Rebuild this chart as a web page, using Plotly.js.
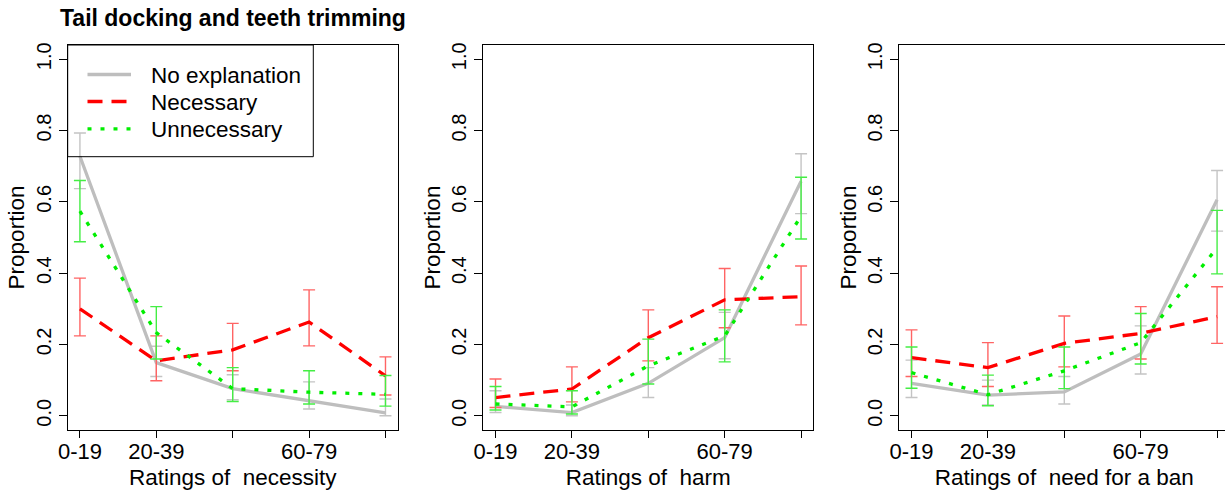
<!DOCTYPE html>
<html>
<head>
<meta charset="utf-8">
<script src="https://cdn.plot.ly/plotly-3.0.1.min.js"></script>
<style>
  html, body { margin: 0; padding: 0; overflow: hidden; background: #fff; }
  #chart { width: 1240px; height: 491px; }
</style>
</head>
<body>
<div id="chart"></div>
<script>
// ---- data ----
const categories = ['0-19', '20-39', '40-59', '60-79', '80-100'];
const tickLabels = ['0-19', '20-39', '', '60-79', ''];
const seriesNames = ['No explanation', 'Necessary', 'Unnecessary'];
const panelTitles = ['Ratings of\u00a0 necessity', 'Ratings of\u00a0 harm', 'Ratings of\u00a0 need for a ban'];
const yTitle = 'Proportion';
const chartTitle = 'Tail docking and teeth trimming';

// Panel 1: necessity
const noExp1   = [0.728, 0.149, 0.076, 0.042, 0.008];
const noExp1Lo = [0.637, 0.110, 0.045, 0.019, 0.000];
const noExp1Hi = [0.793, 0.195, 0.115, 0.095, 0.047];
const nec1     = [0.300, 0.154, 0.185, 0.263, 0.112];
const nec1Lo   = [0.224, 0.098, 0.126, 0.196, 0.058];
const nec1Hi   = [0.386, 0.224, 0.259, 0.353, 0.165];
const unn1     = [0.574, 0.233, 0.076, 0.066, 0.060];
const unn1Lo   = [0.488, 0.159, 0.040, 0.033, 0.027];
const unn1Hi   = [0.660, 0.306, 0.135, 0.126, 0.113];

// Panel 2: harm
const noExp2   = [0.026, 0.009, 0.091, 0.219, 0.658];
const noExp2Lo = [0.009, 0.000, 0.051, 0.160, 0.567];
const noExp2Hi = [0.070, 0.030, 0.135, 0.290, 0.735];
const nec2     = [0.051, 0.075, 0.219, 0.325, 0.334];
const nec2Lo   = [0.023, 0.039, 0.154, 0.247, 0.255];
const nec2Hi   = [0.103, 0.137, 0.297, 0.413, 0.420];
const unn2     = [0.033, 0.025, 0.140, 0.224, 0.560];
const unn2Lo   = [0.016, 0.005, 0.089, 0.151, 0.496];
const unn2Hi   = [0.082, 0.070, 0.215, 0.297, 0.669];

// Panel 3: need for a ban
const noExp3   = [0.091, 0.058, 0.067, 0.173, 0.606];
const noExp3Lo = [0.051, 0.030, 0.033, 0.117, 0.518];
const noExp3Hi = [0.156, 0.100, 0.110, 0.252, 0.688];
const nec3     = [0.163, 0.135, 0.203, 0.231, 0.278];
const nec3Lo   = [0.110, 0.082, 0.137, 0.159, 0.203];
const nec3Hi   = [0.241, 0.205, 0.280, 0.306, 0.362];
const unn3     = [0.121, 0.059, 0.126, 0.205, 0.471];
const unn3Lo   = [0.077, 0.028, 0.076, 0.145, 0.398];
const unn3Hi   = [0.193, 0.114, 0.193, 0.287, 0.576];

// ---- styling ----
const FONT = 'Liberation Sans, Arial, Helvetica, sans-serif';
const W = 1240, H = 491;
const styles = [
  { line: { color: '#bebebe', width: 3.3, dash: 'solid' }, err: '#c4c4c4' },
  { line: { color: '#ff0000', width: 3.3, dash: '15px,9px' }, err: '#ff6464' },
  { line: { color: '#00ee00', width: 3.3, dash: '4px,9px' }, err: '#44ee44' }
];

const panels = [
  [[noExp1, noExp1Lo, noExp1Hi], [nec1, nec1Lo, nec1Hi], [unn1, unn1Lo, unn1Hi]],
  [[noExp2, noExp2Lo, noExp2Hi], [nec2, nec2Lo, nec2Hi], [unn2, unn2Lo, unn2Hi]],
  [[noExp3, noExp3Lo, noExp3Hi], [nec3, nec3Lo, nec3Hi], [unn3, unn3Lo, unn3Hi]]
];

// plot-box pixel extents of each panel (left, right)
const boxX = [[67.7, 397.7], [483.3, 813.3], [899.3, 1229.3]];
const boxTop = 45, boxBottom = 430;

const traces = [];
panels.forEach((panel, p) => {
  const sfx = p === 0 ? '' : String(p + 1);
  panel.forEach((s, k) => {
    const [vals, lo, hi] = s;
    traces.push({
      type: 'scatter', mode: 'lines',
      x: categories, y: vals,
      xaxis: 'x' + sfx, yaxis: 'y' + sfx,
      name: seriesNames[k],
      showlegend: false,
      line: styles[k].line,
      error_y: {
        type: 'data', symmetric: false,
        array: hi.map((h, i) => h - vals[i]),
        arrayminus: lo.map((l, i) => vals[i] - l),
        color: styles[k].err, thickness: 1.4, width: 6
      },
      hoverinfo: 'x+y+name'
    });
  });
});

// legend box drawn in the first panel (pixel layout -> paper coords)
const px = v => v / W, py = v => 1 - v / H;
const legBox = { x0: 67.7, x1: 313.3, y0: 45, y1: 156.7 };
const legRowsY = [74.5, 101.5, 128.8];
const legLineX = [87.5, 131];
const legTextX = 149;

const shapes = [{
  type: 'rect', xref: 'paper', yref: 'paper',
  x0: px(legBox.x0), x1: px(legBox.x1), y0: py(legBox.y1), y1: py(legBox.y0),
  line: { color: '#000', width: 1 }, fillcolor: 'rgba(0,0,0,0)'
}];
const annotations = [];
seriesNames.forEach((n, k) => {
  shapes.push({
    type: 'line', xref: 'paper', yref: 'paper',
    x0: px(legLineX[0]), x1: px(legLineX[1]), y0: py(legRowsY[k]), y1: py(legRowsY[k]),
    line: { color: styles[k].line.color, width: styles[k].line.width, dash: styles[k].line.dash }
  });
  annotations.push({
    xref: 'paper', yref: 'paper', x: px(legTextX), y: py(legRowsY[k] + 1),
    xanchor: 'left', yanchor: 'middle', showarrow: false, text: n,
    font: { family: FONT, size: 22.5, color: '#000' }
  });
});

const layout = {
  width: W, height: H,
  margin: { l: 0, r: 0, t: 0, b: 0, pad: 0 },
  paper_bgcolor: '#fff', plot_bgcolor: '#fff',
  font: { family: FONT, size: 22, color: '#000' },
  showlegend: false,
  title: {
    text: chartTitle, xref: 'container', yref: 'container',
    x: 60 / W, xanchor: 'left', y: 1 - 18 / H, yanchor: 'middle',
    font: { family: FONT, size: 23, weight: 'bold', color: '#000' }
  },
  shapes: shapes,
  annotations: annotations
};

boxX.forEach((bx, p) => {
  const sfx = p === 0 ? '' : String(p + 1);
  layout['xaxis' + sfx] = {
    domain: [bx[0] / W, bx[1] / W],
    anchor: 'y' + sfx,
    type: 'category',
    range: [-0.16, 4.16],
    tickmode: 'array', tickvals: categories, ticktext: tickLabels,
    ticks: 'outside', ticklen: 7, tickwidth: 1, tickcolor: '#000',
    ticklabelstandoff: -5,
    showline: true, linecolor: '#000', linewidth: 1, mirror: true,
    showgrid: false, zeroline: false,
    tickfont: { family: FONT, size: 22, color: '#000' },
    title: { text: panelTitles[p], font: { family: FONT, size: 22.5, color: '#000' }, standoff: 5 }
  };
  layout['yaxis' + sfx] = {
    domain: [1 - boxBottom / H, 1 - boxTop / H],
    anchor: 'x' + sfx,
    range: [-0.04, 1.04],
    tickmode: 'linear', tick0: 0, dtick: 0.2, tickformat: '.1f',
    tickangle: -90,
    ticks: 'outside', ticklen: 8, tickwidth: 1, tickcolor: '#000',
    showline: true, linecolor: '#000', linewidth: 1, mirror: true,
    showgrid: false, zeroline: false,
    tickfont: { family: FONT, size: 20, color: '#000' },
    title: { text: yTitle, font: { family: FONT, size: 22.5, color: '#000' }, standoff: 1 }
  };
});

Plotly.newPlot('chart', traces, layout, { staticPlot: true, displayModeBar: false });
</script>
</body>
</html>
